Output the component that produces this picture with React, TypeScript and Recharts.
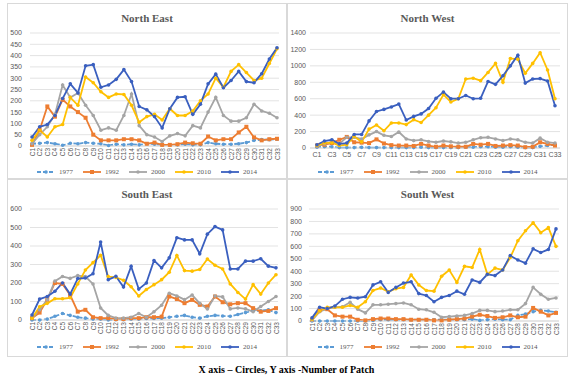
import React from "react";
import { LineChart, Line, XAxis, YAxis, CartesianGrid } from "recharts";

const CIRCLES = [
  "C1", "C2", "C3", "C4", "C5", "C6", "C7", "C8", "C9", "C10", "C11",
  "C12", "C13", "C14", "C15", "C16", "C17", "C18", "C19", "C20", "C21", "C22",
  "C23", "C24", "C25", "C26", "C27", "C28", "C29", "C30", "C31", "C32", "C33",
];
const YEARS = ["1977", "1992", "2000", "2010", "2014"];
const COLORS = ["#5B9BD5", "#ED7D31", "#A5A5A5", "#FFC000", "#3A5FBF"];

// North East
const NE_1977 = [10, 12, 15, 10, 3, 12, 10, 15, 12, 10, 2, 8, 5, 8, 5, 10, 8, 5, 5, 5, 8, 5, 5, 15, 10, 8, 8, 10, 15, 25, 28, 28, 30];
const NE_1992 = [5, 70, 175, 130, 205, 175, 150, 125, 50, 25, 25, 25, 30, 30, 25, 10, 15, 5, 5, 8, 15, 12, 10, 42, 25, 30, 30, 60, 85, 38, 25, 30, 32];
const NE_2000 = [10, 50, 85, 140, 270, 215, 235, 180, 135, 70, 80, 70, 135, 230, 90, 50, 40, 20, 45, 55, 45, 90, 80, 150, 215, 135, 110, 110, 125, 185, 155, 145, 125];
const NE_2010 = [25, 70, 40, 85, 95, 215, 180, 305, 280, 240, 215, 230, 228, 180, 105, 130, 140, 115, 165, 135, 135, 155, 200, 230, 300, 260, 330, 360, 325, 290, 300, 365, 430];
const NE_2014 = [40, 85, 95, 135, 210, 275, 235, 355, 360, 260, 270, 295, 338, 285, 175, 160, 130, 80, 165, 215, 218, 140, 185, 275, 318, 258, 290, 330, 285, 280, 320, 385, 435];

// North West
const NW_1977 = [10, 15, 15, 5, 5, 5, 8, 5, 5, 5, 5, 5, 5, 5, 10, 5, 5, 5, 5, 5, 10, 10, 15, 15, 10, 10, 15, 10, 5, 5, 20, 30, 40];
const NW_1992 = [30, 40, 60, 100, 135, 70, 65, 60, 105, 55, 35, 30, 30, 25, 50, 30, 15, 30, 20, 15, 15, 50, 40, 50, 25, 30, 35, 30, 10, 15, 70, 50, 30];
const NW_2000 = [20, 50, 70, 50, 130, 130, 110, 160, 200, 155, 140, 195, 110, 90, 100, 80, 70, 85, 75, 60, 70, 100, 125, 130, 110, 90, 110, 100, 70, 60, 120, 70, 60];
const NW_2010 = [30, 60, 65, 30, 40, 140, 75, 230, 280, 210, 305, 305, 285, 345, 310, 400, 490, 650, 560, 600, 840, 850, 820, 920, 1030, 800, 1090, 1080, 910, 1030, 1160, 950, 600];
const NW_2014 = [40, 85, 100, 50, 60, 165, 165, 330, 445, 470, 500, 535, 340, 385, 415, 480, 605, 680, 600, 600, 640, 600, 605, 810, 775, 880, 1000, 1130, 790, 840, 845, 815, 515];

// South East
const SE_1977 = [0, 0, 5, 20, 35, 25, 15, 10, 5, 5, 0, 2, 2, 5, 5, 8, 8, 10, 15, 20, 25, 15, 10, 20, 25, 22, 20, 30, 40, 50, 50, 55, 40];
const SE_1992 = [10, 40, 110, 200, 195, 135, 45, 55, 15, 10, 10, 5, 5, 10, 10, 15, 15, 18, 127, 113, 91, 109, 82, 73, 127, 96, 85, 91, 91, 64, 45, 49, 64];
const SE_2000 = [10, 55, 110, 210, 235, 225, 240, 235, 195, 65, 25, 10, 10, 15, 35, 15, 45, 80, 145, 130, 110, 135, 90, 60, 130, 125, 60, 65, 60, 45, 73, 100, 127];
const SE_2010 = [10, 72, 90, 115, 115, 120, 195, 270, 310, 350, 235, 230, 215, 180, 130, 165, 191, 218, 258, 349, 267, 264, 273, 330, 296, 276, 195, 149, 113, 191, 140, 200, 245];
const SE_2014 = [27, 113, 127, 155, 200, 140, 224, 227, 250, 422, 218, 236, 178, 290, 167, 200, 322, 282, 336, 445, 433, 433, 358, 464, 505, 487, 276, 276, 318, 318, 331, 291, 282];

// South West
const SW_1977 = [0, 0, 0, 0, 0, 0, 0, 0, 5, 10, 10, 10, 10, 10, 10, 10, 10, 10, 10, 10, 10, 15, 5, 10, 15, 10, 10, 45, 55, 75, 85, 80, 70];
const SW_1992 = [10, 85, 95, 45, 35, 35, 10, 5, 15, 20, 20, 15, 15, 10, 10, 10, 5, 5, 10, 15, 20, 35, 50, 40, 25, 30, 45, 30, 35, 105, 75, 45, 65];
const SW_2000 = [5, 75, 100, 110, 115, 150, 95, 65, 130, 130, 135, 140, 145, 130, 95, 90, 70, 30, 35, 40, 45, 60, 85, 85, 75, 80, 90, 90, 140, 270, 215, 175, 185];
const SW_2010 = [15, 80, 110, 110, 110, 125, 110, 155, 245, 265, 235, 260, 270, 370, 290, 245, 240, 360, 410, 310, 440, 430, 575, 375, 425, 410, 510, 645, 725, 790, 710, 750, 600];
const SW_2014 = [25, 110, 100, 120, 175, 190, 185, 195, 290, 315, 230, 270, 305, 315, 220, 205, 155, 190, 205, 240, 215, 330, 310, 375, 365, 410, 525, 490, 465, 580, 550, 575, 740];

const NE_TICKS = [0, 50, 100, 150, 200, 250, 300, 350, 400, 450, 500];
const NW_TICKS = [0, 200, 400, 600, 800, 1000, 1200, 1400];
const SE_TICKS = [0, 100, 200, 300, 400, 500, 600];
const SW_TICKS = [0, 100, 200, 300, 400, 500, 600, 700, 800, 900];

const SANS = '"Liberation Sans", Arial, sans-serif';
const SERIF = '"Liberation Serif", "Times New Roman", serif';
const TICK_GRAY = "#595959";

function rows(series: number[][]) {
  return CIRCLES.map((c, i) => {
    const r: any = { circle: c };
    YEARS.forEach((y, k) => { r[y] = series[k][i]; });
    return r;
  });
}

const squareDot = (color: string) => (p: any) => {
  if (p.cx == null || p.cy == null) return <g key={`sq-${p.index}`} />;
  return <rect key={`sq-${p.index}`} x={p.cx - 2} y={p.cy - 2} width={4} height={4} fill={color} />;
};

const RotTick = (p: any) => (
  <text
    x={p.x} y={p.y}
    transform={`rotate(-90 ${p.x} ${p.y})`}
    textAnchor="end" dominantBaseline="central"
    fontSize={6.5} fill={TICK_GRAY} fontFamily={SANS}
  >
    {p.payload.value}
  </text>
);

function LegendRow() {
  return (
    <div style={{ display: "flex", justifyContent: "center", gap: 10 }}>
      {YEARS.map((y, k) => (
        <div key={y} style={{ display: "flex", alignItems: "center", gap: 4 }}>
          <svg width={18} height={6}>
            <line x1={0} y1={3} x2={18} y2={3} stroke={COLORS[k]} strokeWidth={1.8}
              strokeDasharray={k === 0 ? "4 2" : undefined} />
            {k === 1
              ? <rect x={7} y={1} width={4} height={4} fill={COLORS[k]} />
              : <circle cx={9} cy={3} r={1.8} fill={COLORS[k]} />}
          </svg>
          <span style={{ fontFamily: SERIF, fontSize: 7, color: TICK_GRAY, lineHeight: "8px" }}>{y}</span>
        </div>
      ))}
    </div>
  );
}

const PANELS = [
  {
    title: "North East", left: 7, top: 3, w: 280, h: 176,
    series: [NE_1977, NE_1992, NE_2000, NE_2010, NE_2014], ticks: NE_TICKS,
    plotL: 23, plotR: 272, plotT: 30, plotB: 143, axisH: 17, padL: 2, padR: 2,
    gap: 8, rotate: true, xGap: 2, legendTop: 164,
  },
  {
    title: "North West", left: 287, top: 3, w: 281, h: 176,
    series: [NW_1977, NW_1992, NW_2000, NW_2010, NW_2014], ticks: NW_TICKS,
    plotL: 23, plotR: 273, plotT: 30, plotB: 145, axisH: 12, padL: 7, padR: 5,
    gap: 4, rotate: false, xGap: 4, legendTop: 164,
  },
  {
    title: "South East", left: 7, top: 179, w: 280, h: 178,
    series: [SE_1977, SE_1992, SE_2000, SE_2010, SE_2014], ticks: SE_TICKS,
    plotL: 23, plotR: 271, plotT: 30, plotB: 141, axisH: 17, padL: 2, padR: 2,
    gap: 8, rotate: true, xGap: 2, legendTop: 163,
  },
  {
    title: "South West", left: 287, top: 179, w: 281, h: 178,
    series: [SW_1977, SW_1992, SW_2000, SW_2010, SW_2014], ticks: SW_TICKS,
    plotL: 22, plotR: 272, plotT: 30, plotB: 142, axisH: 17, padL: 3, padR: 3,
    gap: 7, rotate: true, xGap: 2, legendTop: 163,
  },
];

function Panel({ cfg }: { cfg: any }) {
  const data = rows(cfg.series);
  const top = cfg.ticks[cfg.ticks.length - 1];
  return (
    <div style={{
      position: "absolute", left: cfg.left, top: cfg.top, width: cfg.w, height: cfg.h,
      border: "1px solid #D9D9D9", boxSizing: "border-box",
    }}>
      <div style={{
        position: "absolute", top: 7, left: 0, width: "100%", textAlign: "center",
        fontFamily: SERIF, fontWeight: 700, fontSize: 11, color: "#595959", lineHeight: "14px",
      }}>
        {cfg.title}
      </div>
      <div style={{ position: "absolute", left: -1, top: -1 }}>
        <LineChart
          width={cfg.w} height={cfg.plotB + cfg.axisH} data={data}
          margin={{ top: cfg.plotT, right: cfg.w - cfg.plotR, bottom: 0, left: 0 }}
        >
          <CartesianGrid vertical={false} stroke="#D9D9D9" strokeWidth={0.75} />
          <XAxis
            dataKey="circle" interval={cfg.rotate ? 0 : 1} height={cfg.axisH}
            tickSize={0} tickMargin={cfg.xGap}
            axisLine={{ stroke: "#D9D9D9" }} tickLine={false}
            padding={{ left: cfg.padL, right: cfg.padR }}
            tick={cfg.rotate ? <RotTick /> : { fontSize: 7, fill: TICK_GRAY, fontFamily: SANS }}
          />
          <YAxis
            domain={[0, top]} ticks={cfg.ticks} interval={0} width={cfg.plotL}
            tickSize={0} tickMargin={cfg.gap} axisLine={false} tickLine={false}
            tick={{ fontSize: 7, fill: TICK_GRAY, fontFamily: SANS }}
          />
          {YEARS.map((y, k) => (
            <Line
              key={y} dataKey={y} type="linear" stroke={COLORS[k]} strokeWidth={1.8}
              strokeDasharray={k === 0 ? "4 2" : undefined}
              dot={k === 1 ? squareDot(COLORS[k]) : { r: 1.8, fill: COLORS[k], stroke: "none" }}
              isAnimationActive={false}
            />
          ))}
        </LineChart>
      </div>
      <div style={{ position: "absolute", top: cfg.legendTop, left: 0, width: "100%" }}>
        <LegendRow />
      </div>
    </div>
  );
}

export default function App() {
  return (
    <div style={{ position: "fixed", left: 0, top: 0, width: 573, height: 380, background: "#fff" }}>
      {PANELS.map((p) => <Panel key={p.title} cfg={p} />)}
      <div style={{
        position: "absolute", top: 363, left: 0, width: 573, textAlign: "center",
        fontFamily: SERIF, fontWeight: 700, fontSize: 10, color: "#000", lineHeight: "14px",
      }}>
        X axis – Circles, Y axis -Number of Patch
      </div>
    </div>
  );
}
